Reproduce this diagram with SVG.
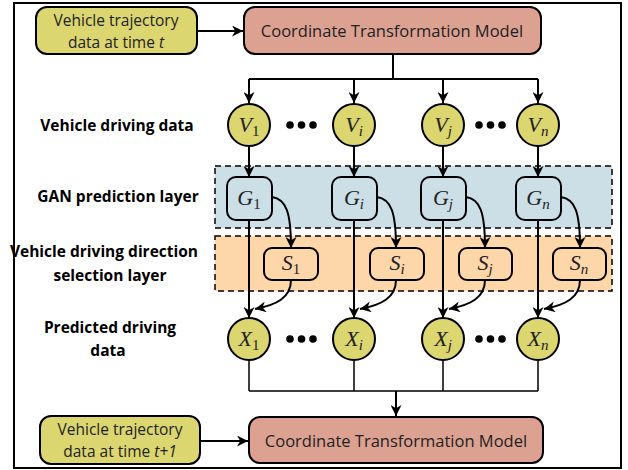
<svg xmlns="http://www.w3.org/2000/svg" width="628" height="470" viewBox="0 0 628 470">
  <defs>
    <marker id="arrow" viewBox="0 0 10 10" refX="10" refY="5" markerWidth="5.5" markerHeight="5.5" orient="auto" markerUnits="strokeWidth">
      <path d="M0,0 L10,5 L0,10 L3,5 Z" fill="#000"/>
    </marker>
  </defs>
  <style>
    .frame { fill: #fff; stroke: #000; stroke-width: 2; }
    .input { fill: #dbd670; stroke: #000; stroke-width: 2; }
    .ctm { fill: #dda192; stroke: #000; stroke-width: 2; }
    .band-g { fill: #ccdfe6; stroke: #000; stroke-width: 1.5; stroke-dasharray: 6 4; }
    .band-s { fill: #fdd6aa; stroke: #000; stroke-width: 1.5; stroke-dasharray: 6 4; }
    .circ { fill: #dbd670; stroke: #000; stroke-width: 2; }
    .gbox { fill: #ccdfe6; stroke: #000; stroke-width: 2; }
    .sbox { fill: #fdd6aa; stroke: #000; stroke-width: 2; }
    .wire { fill: none; stroke: #000; stroke-width: 2; }
    .wire-thin { fill: none; stroke: #000; stroke-width: 1.5; }
    .txt { font-family: "Open Sans", "Noto Sans", sans-serif; font-size: 15.5px; fill: #222; text-anchor: middle; }
    .big { font-size: 16.5px; }
    .lbl { font-family: "Open Sans", "Noto Sans", sans-serif; font-size: 15.5px; font-weight: bold; fill: #000; text-anchor: middle; }
    .math { font-family: "Liberation Serif", "DejaVu Serif", serif; font-size: 22px; font-style: italic; fill: #222; text-anchor: middle; }
    .sub { font-size: 15px; }
    .up { font-style: normal; }
    .dot { fill: #000; }
  </style>

  <!-- outer frame -->
  <rect class="frame" x="14" y="3" width="607" height="465"/>

  <!-- layer bands -->
  <rect class="band-g" x="215" y="166" width="397" height="62"/>
  <rect class="band-s" x="215" y="236" width="397" height="55"/>

  <!-- row labels -->
  <g id="row-labels">
    <text class="lbl" x="117" y="131">Vehicle driving data</text>
    <text class="lbl" x="118" y="202">GAN prediction layer</text>
    <text class="lbl" x="104" y="257">Vehicle driving direction</text>
    <text class="lbl" x="110" y="281">selection layer</text>
    <text class="lbl" x="110" y="333">Predicted driving</text>
    <text class="lbl" x="108" y="356">data</text>
  </g>

  <!-- connectors -->
  <g id="connectors">
    <path class="wire" d="M197,31 L243,31" marker-end="url(#arrow)"/>
    <path class="wire" d="M393,54 L393,79 M249,79 L538,79"/>
    <path class="wire" d="M249,79 L249,103" marker-end="url(#arrow)"/>
    <path class="wire" d="M354,79 L354,103" marker-end="url(#arrow)"/>
    <path class="wire" d="M443,79 L443,103" marker-end="url(#arrow)"/>
    <path class="wire" d="M538,79 L538,103" marker-end="url(#arrow)"/>

    <path class="wire" d="M249,146 L249,177" marker-end="url(#arrow)"/>
    <path class="wire" d="M354,146 L354,177" marker-end="url(#arrow)"/>
    <path class="wire" d="M443,146 L443,177" marker-end="url(#arrow)"/>
    <path class="wire" d="M538,146 L538,177" marker-end="url(#arrow)"/>

    <path class="wire" d="M249,220 L249,318" marker-end="url(#arrow)"/>
    <path class="wire" d="M354,220 L354,318" marker-end="url(#arrow)"/>
    <path class="wire" d="M443,220 L443,318" marker-end="url(#arrow)"/>
    <path class="wire" d="M538,220 L538,318" marker-end="url(#arrow)"/>

    <path class="wire" d="M272,197 C286,199 291,212 291,248" marker-end="url(#arrow)"/>
    <path class="wire" d="M377,197 C391,199 396,212 396,248" marker-end="url(#arrow)"/>
    <path class="wire" d="M466,197 C480,199 485,212 485,248" marker-end="url(#arrow)"/>
    <path class="wire" d="M561,197 C575,199 580,212 580,248" marker-end="url(#arrow)"/>

    <path class="wire" d="M291,280 C291,298 276,305 255,309" marker-end="url(#arrow)"/>
    <path class="wire" d="M396,280 C396,298 381,305 360,309" marker-end="url(#arrow)"/>
    <path class="wire" d="M485,280 C485,298 470,305 449,309" marker-end="url(#arrow)"/>
    <path class="wire" d="M580,280 C580,298 565,305 544,309" marker-end="url(#arrow)"/>

    <path class="wire-thin" d="M249,360 L249,391 M354,360 L354,391 M443,360 L443,391 M538,360 L538,391 M249,391 L538,391"/>
    <path class="wire" d="M396,391 L396,416" marker-end="url(#arrow)"/>
    <path class="wire" d="M200,441 L248,441" marker-end="url(#arrow)"/>
  </g>

  <!-- input and model blocks -->
  <g id="input-t">
    <rect class="input" x="36" y="7" width="161" height="47" rx="11"/>
    <text class="txt" x="116" y="25.5">Vehicle trajectory</text>
    <text class="txt" x="116" y="48">data at time <tspan font-style="italic">t</tspan></text>
  </g>
  <g id="ctm-top">
    <rect class="ctm" x="244" y="7" width="297" height="47" rx="11"/>
    <text class="txt big" x="392" y="36.5">Coordinate Transformation Model</text>
  </g>
  <g id="input-t1">
    <rect class="input" x="40" y="416" width="160" height="48" rx="11"/>
    <text class="txt" x="120" y="435">Vehicle trajectory</text>
    <text class="txt" x="120" y="457">data at time <tspan font-style="italic">t+1</tspan></text>
  </g>
  <g id="ctm-bottom">
    <rect class="ctm" x="249" y="417" width="294" height="46" rx="11"/>
    <text class="txt big" x="396" y="446.5">Coordinate Transformation Model</text>
  </g>

  <!-- vehicle driving data -->
  <g id="V1"><circle class="circ" cx="249" cy="125" r="21"/><text class="math" x="249" y="132">V<tspan class="sub up" dy="4">1</tspan></text></g>
  <g id="Vi"><circle class="circ" cx="354" cy="125" r="21"/><text class="math" x="354" y="132">V<tspan class="sub" dy="4">i</tspan></text></g>
  <g id="Vj"><circle class="circ" cx="443" cy="125" r="21"/><text class="math" x="443" y="132">V<tspan class="sub" dy="4">j</tspan></text></g>
  <g id="Vn"><circle class="circ" cx="538" cy="125" r="21"/><text class="math" x="538" y="132">V<tspan class="sub" dy="4">n</tspan></text></g>
  <g id="V-dots">
    <circle class="dot" cx="290" cy="125" r="3.8"/><circle class="dot" cx="301.5" cy="125" r="3.8"/><circle class="dot" cx="313" cy="125" r="3.8"/>
    <circle class="dot" cx="479" cy="125" r="3.8"/><circle class="dot" cx="490.5" cy="125" r="3.8"/><circle class="dot" cx="502" cy="125" r="3.8"/>
  </g>

  <!-- GAN prediction layer -->
  <g id="G1"><rect class="gbox" x="227" y="177" width="45" height="43" rx="9"/><text class="math" x="249" y="205">G<tspan class="sub up" dy="4">1</tspan></text></g>
  <g id="Gi"><rect class="gbox" x="332" y="177" width="45" height="43" rx="9"/><text class="math" x="354" y="205">G<tspan class="sub" dy="4">i</tspan></text></g>
  <g id="Gj"><rect class="gbox" x="421" y="177" width="45" height="43" rx="9"/><text class="math" x="443" y="205">G<tspan class="sub" dy="4">j</tspan></text></g>
  <g id="Gn"><rect class="gbox" x="516" y="177" width="45" height="43" rx="9"/><text class="math" x="538" y="205">G<tspan class="sub" dy="4">n</tspan></text></g>

  <!-- direction selection layer -->
  <g id="S1"><rect class="sbox" x="264" y="248" width="54" height="32" rx="8"/><text class="math" x="291" y="270">S<tspan class="sub up" dy="4">1</tspan></text></g>
  <g id="Si"><rect class="sbox" x="370" y="248" width="54" height="32" rx="8"/><text class="math" x="397" y="270">S<tspan class="sub" dy="4">i</tspan></text></g>
  <g id="Sj"><rect class="sbox" x="459" y="248" width="53" height="32" rx="8"/><text class="math" x="485" y="270">S<tspan class="sub" dy="4">j</tspan></text></g>
  <g id="Sn"><rect class="sbox" x="553" y="248" width="53" height="32" rx="8"/><text class="math" x="579" y="270">S<tspan class="sub" dy="4">n</tspan></text></g>

  <!-- predicted driving data -->
  <g id="X1"><circle class="circ" cx="249" cy="339" r="21"/><text class="math" x="249" y="346">X<tspan class="sub up" dy="4">1</tspan></text></g>
  <g id="Xi"><circle class="circ" cx="354" cy="339" r="21"/><text class="math" x="354" y="346">X<tspan class="sub" dy="4">i</tspan></text></g>
  <g id="Xj"><circle class="circ" cx="443" cy="339" r="21"/><text class="math" x="443" y="346">X<tspan class="sub" dy="4">j</tspan></text></g>
  <g id="Xn"><circle class="circ" cx="538" cy="339" r="21"/><text class="math" x="538" y="346">X<tspan class="sub" dy="4">n</tspan></text></g>
  <g id="X-dots">
    <circle class="dot" cx="290" cy="339" r="3.8"/><circle class="dot" cx="301.5" cy="339" r="3.8"/><circle class="dot" cx="313" cy="339" r="3.8"/>
    <circle class="dot" cx="479" cy="339" r="3.8"/><circle class="dot" cx="490.5" cy="339" r="3.8"/><circle class="dot" cx="502" cy="339" r="3.8"/>
  </g>
</svg>
